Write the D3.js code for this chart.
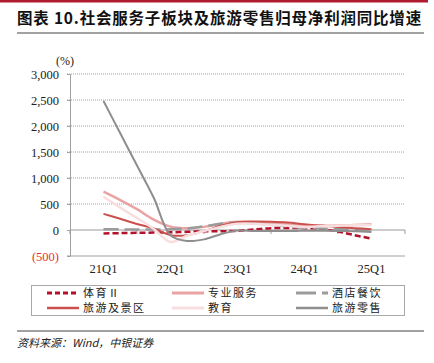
<!DOCTYPE html>
<html>
<head>
<meta charset="utf-8">
<script src="https://cdn.jsdelivr.net/npm/d3@7"></script>
<style>
  body { margin: 0; background: #fff; }
  svg { display: block; }
</style>
</head>
<body>
<div id="chart"></div>
<script>
// datos del gráfico (trimestrales, sólo se rotula el Q1)
const quarters = ['21Q1', '21Q2', '21Q3', '21Q4', '22Q1', '22Q2', '22Q3', '22Q4',
    '23Q1', '23Q2', '23Q3', '23Q4', '24Q1', '24Q2', '24Q3', '24Q4', '25Q1'];
const xLabels = ['21Q1', '22Q1', '23Q1', '24Q1', '25Q1'];
const yTicks = [-500, 0, 500, 1000, 1500, 2000, 2500, 3000];

const tiyu = [-65, -60, -55, -50, -45, -35, -25, -25, -15, 10, 35, 40, 35, 20, -30, -100, -165];        // 体育Ⅱ
const zhuanye = [737, 575, 400, 200, 65, 35, 60, 120, 160, 150, 135, 110, 85, 80, 85, 95, 110];        // 专业服务
const jiudian = [13, 12, 12, 12, 13, 30, 70, 120, 150, 130, 100, 70, 40, 30, 20, 5, -15];              // 酒店餐饮
const lvyouJingqu = [310, 215, 115, 30, -100, -100, -20, 80, 150, 165, 160, 145, 110, 85, 60, 35, 15]; // 旅游及景区
const jiaoyu = [640, 430, 230, 20, -230, -110, -20, 60, 120, 120, 100, 80, 60, 70, 80, 90, 95];        // 教育
const lvyouLingshou = [2480, 1860, 1240, 620, -100, -211, -180, -80, -10, -20, -20, -20, -15, -15, -20, -25, -40]; // 旅游零售

const seriesNames = ['体育Ⅱ', '专业服务', '酒店餐饮', '旅游及景区', '教育', '旅游零售'];
const seriesValues = [tiyu, zhuanye, jiudian, lvyouJingqu, jiaoyu, lvyouLingshou];
const seriesColors = ['#b5112c', '#e9a3a2', '#9b9b9b', '#c9504c', '#f8dede', '#8e8e8e'];
const seriesDash = ['6,3', null, '15,6', null, null, null];
const seriesWidth = [2.5, 2.5, 2.5, 2, 2.5, 2];

const width = 434, height = 363;
const plot = { left: 70, right: 405, top: 74, bottom: 256 };

const svg = d3.select('#chart').append('svg')
    .attr('width', width)
    .attr('height', height);

// cabecera
svg.append('rect')
    .attr('x', 0).attr('y', 0)
    .attr('width', 428).attr('height', 2.5)
    .attr('fill', '#b01b30');

svg.append('text')
    .attr('x', 17).attr('y', 24)
    .attr('font-family', '"Noto Sans CJK SC", sans-serif')
    .attr('font-weight', 'bold')
    .attr('font-size', 15.5)
    .attr('letter-spacing', 0.8)
    .attr('fill', '#111')
    .text('图表 10.社会服务子板块及旅游零售归母净利润同比增速');

svg.append('line')
    .attr('x1', 17).attr('x2', 424)
    .attr('y1', 33).attr('y2', 33)
    .attr('stroke', '#444').attr('stroke-width', 1);

// escalas
const x = d3.scalePoint()
    .domain(quarters)
    .range([plot.left, plot.right])
    .padding(2);

const y = d3.scaleLinear()
    .domain([-500, 3000])
    .range([plot.bottom, plot.top]);

// líneas de cuadrícula
svg.append('g')
    .selectAll('line')
    .data(yTicks.filter(d => d !== 0 && d !== -500))
    .enter().append('line')
    .attr('x1', plot.left - 3).attr('x2', plot.right)
    .attr('y1', d => y(d)).attr('y2', d => y(d))
    .attr('stroke', '#a0a0a0')
    .attr('stroke-width', 1)
    .attr('stroke-dasharray', '1,1');

svg.append('line')
    .attr('x1', plot.left - 3).attr('x2', plot.right)
    .attr('y1', y(-500)).attr('y2', y(-500))
    .attr('stroke', '#a0a0a0');

// eje Y
const yAxis = svg.append('g')
    .attr('transform', `translate(${plot.left}, 0)`)
    .call(d3.axisLeft(y).tickValues(yTicks).tickSize(3).tickPadding(8)
        .tickFormat(d => d < 0 ? `(${d3.format(',')(-d)})` : d3.format(',')(d)));
yAxis.select('.domain').attr('stroke', '#a0a0a0');
yAxis.selectAll('.tick line').attr('stroke', '#a0a0a0');
yAxis.selectAll('.tick text')
    .attr('font-family', '"Liberation Serif", serif')
    .attr('font-size', 12.5)
    .attr('fill', d => d < 0 ? '#e8302a' : '#222');

svg.append('text')
    .attr('x', 56).attr('y', 65)
    .attr('font-family', '"Liberation Serif", serif')
    .attr('font-size', 12)
    .attr('fill', '#222')
    .text('(%)');

// eje X en cero, con marcas cada cuatro trimestres
const yearStep = x.step() * 4;
const xAxis = svg.append('g')
    .attr('transform', `translate(0, ${y(0)})`);
xAxis.append('line')
    .attr('x1', plot.left).attr('x2', plot.right)
    .attr('stroke', '#9a9a9a').attr('stroke-width', 1.2);
xAxis.selectAll('.tk')
    .data(d3.range(xLabels.length + 1))
    .enter().append('line')
    .attr('x1', i => plot.left + i * yearStep).attr('x2', i => plot.left + i * yearStep)
    .attr('y1', 0).attr('y2', 4)
    .attr('stroke', '#9a9a9a');

svg.append('g')
    .selectAll('text')
    .data(xLabels)
    .enter().append('text')
    .attr('x', d => x(d))
    .attr('y', 273)
    .attr('text-anchor', 'middle')
    .attr('font-family', '"Liberation Serif", serif')
    .attr('font-size', 12.5)
    .attr('fill', '#222')
    .text(d => d);

// series
const line = d3.line()
    .x((d, i) => x(quarters[i]))
    .y(d => y(d))
    .curve(d3.curveCatmullRom);

svg.append('g')
    .selectAll('path')
    .data(seriesValues)
    .enter().append('path')
    .attr('d', d => line(d))
    .attr('fill', 'none')
    .attr('stroke', (d, i) => seriesColors[i])
    .attr('stroke-width', (d, i) => seriesWidth[i])
    .attr('stroke-dasharray', (d, i) => seriesDash[i]);

// leyenda
svg.append('rect')
    .attr('x', 31.5).attr('y', 285.5)
    .attr('width', 373).attr('height', 30)
    .attr('fill', 'none')
    .attr('stroke', '#a8a8a8');

const legendX = [47, 172, 296];
const legendY = [293, 308];
const legend = svg.append('g')
    .selectAll('g')
    .data(seriesNames)
    .enter().append('g')
    .attr('transform', (d, i) => `translate(${legendX[i % 3]}, ${legendY[Math.floor(i / 3)]})`);

legend.append('line')
    .attr('x1', 0).attr('x2', 32)
    .attr('stroke', (d, i) => seriesColors[i])
    .attr('stroke-width', (d, i) => seriesWidth[i] + 0.5)
    .attr('stroke-dasharray', (d, i) => seriesDash[i] ? (i === 0 ? '5,3' : '20,6') : null);

legend.append('text')
    .attr('x', 36)
    .attr('dy', '0.35em')
    .attr('font-family', '"Noto Sans CJK SC", sans-serif')
    .attr('font-size', 11)
    .attr('letter-spacing', 1.5)
    .attr('fill', '#222')
    .text(d => d);

// pie
svg.append('line')
    .attr('x1', 17).attr('x2', 424)
    .attr('y1', 331).attr('y2', 331)
    .attr('stroke', '#444').attr('stroke-width', 1);

svg.append('text')
    .attr('x', 17).attr('y', 347)
    .attr('font-family', '"Noto Sans CJK SC", sans-serif')
    .attr('font-style', 'italic')
    .attr('font-size', 11)
    .attr('fill', '#222')
    .text('资料来源：Wind，中银证券');
</script>
</body>
</html>
